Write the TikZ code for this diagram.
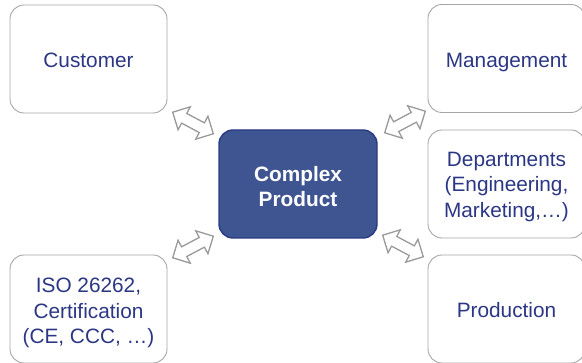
\documentclass[tikz,border=0pt]{standalone}
\usepackage{fontspec}
\setmainfont{Liberation Sans}
\definecolor{navytext}{HTML}{2B3784}
\definecolor{corefill}{HTML}{3F5591}
\definecolor{coreline}{HTML}{283A82}
\definecolor{boxline}{HTML}{A6A6A6}
\definecolor{arrowline}{HTML}{9A9A9A}
\begin{document}
\begin{tikzpicture}[x=1pt,y=1pt,
  party/.style={draw=boxline, line width=0.9pt, rounded corners=14pt, fill=white,
    minimum width=157pt, minimum height=108pt, inner sep=0pt},
  core/.style={draw=coreline, line width=1.4pt, rounded corners=14pt, fill=corefill,
    minimum width=158pt, minimum height=108pt, inner sep=0pt},
  words/.style={align=center, text=navytext, inner sep=0pt,
    font=\fontsize{20.8}{25.5}\selectfont},
  corewords/.style={words, text=white, font=\fontsize{20.8}{25.5}\selectfont\bfseries},
  twoway/.pic={
    \draw[arrowline, line width=1.3pt, fill=white, line join=miter]
      (-23,0) -- (-10,13) -- (-10,5.5) -- (10,5.5) -- (10,13) -- (23,0)
      -- (10,-13) -- (10,-5.5) -- (-10,-5.5) -- (-10,-13) -- cycle;
  }
]
\useasboundingbox (0,0) rectangle (582,363);

\node[core]  (prod) at (298,179) {};
\node[corewords] (prodtxt) at ([yshift=-2.5pt]prod.center) {Complex\\Product};

\node[party] (cust) at (88.5,304)    {};
\node[party] (mgmt) at (506.5,304.5) {};
\node[party] (dept) at (506.5,179)   {};
\node[party] (iso)  at (88.5,54)     {};
\node[party] (mfg)  at (506.5,54)    {};

\node[words] (custtxt) at ([yshift=-1pt]cust.center) {Customer};
\node[words] (mgmttxt) at ([yshift=-4pt]mgmt.center) {Management};
\node[words] (depttxt) at ([yshift=-3pt]dept.center) {Departments\\(Engineering,\\Marketing,…)};
\node[words] (isotxt)  at ([yshift=-4pt]iso.center)  {ISO 26262,\\Certification\\(CE, CCC, …)};
\node[words] (mfgtxt)  at ([yshift=-1pt]mfg.center)  {Production};

% two-way block arrows between the product and its stakeholders
\pic[rotate=-28] (l1) at (193,240) {twoway};
\pic[rotate=28]  (l2) at (405,241) {twoway};
\pic[rotate=28]  (l3) at (193,116) {twoway};
\pic[rotate=-28] (l4) at (403,117) {twoway};
\end{tikzpicture}
\end{document}
